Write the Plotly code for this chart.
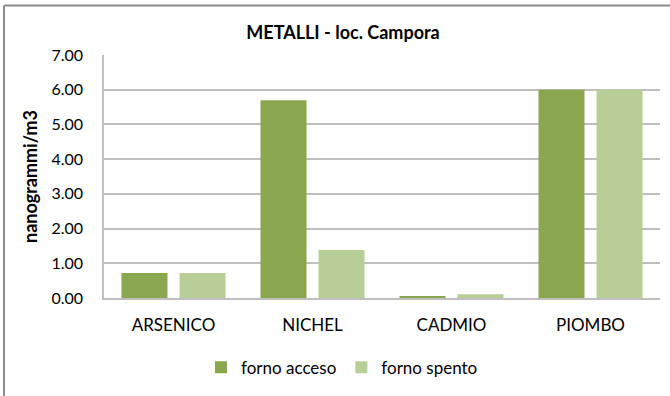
import plotly.graph_objects as go

categories = ["ARSENICO", "NICHEL", "CADMIO", "PIOMBO"]
forno_acceso = [0.72, 5.70, 0.06, 6.00]
forno_spento = [0.72, 1.38, 0.11, 6.00]
series_names = ["forno acceso", "forno spento"]
colors = ["#8AA64E", "#B8CE96"]
tick_vals = [0, 1, 2, 3, 4, 5, 6, 7]
tick_text = ["0.00", "1.00", "2.00", "3.00", "4.00", "5.00", "6.00", "7.00"]

FONT = "Lato"

fig = go.Figure()
for name, vals, col in zip(series_names, [forno_acceso, forno_spento], colors):
    fig.add_trace(go.Bar(x=categories, y=vals, name=name, marker=dict(color=col, line=dict(width=0))))

W, H = 670, 396
L, R, T, B = 104, 10, 55, 95.5
pw = W - L - R
ph = H - T - B

def px_x(p):
    return (p - L) / pw

def px_y(p):
    return (H - B - p) / ph

fig.update_layout(
    width=W, height=H,
    margin=dict(l=L, r=R, t=T, b=B),
    paper_bgcolor="white", plot_bgcolor="white",
    barmode="group", bargap=0.165, bargroupgap=0.207,
    font=dict(family=FONT, size=16, color="#000000"),
    title=dict(text="<b>METALLI - loc. Campora</b>", x=(343 / W), xanchor="center",
               y=1 - 33 / H, yanchor="middle", font=dict(family=FONT, size=18, color="#000")),
    showlegend=True,
    legend=dict(orientation="h", x=px_x(342), xanchor="center", y=px_y(371), yanchor="middle",
                font=dict(family=FONT, size=17, color="#000"), itemwidth=30, traceorder="normal",
                bgcolor="rgba(0,0,0,0)"),
    xaxis=dict(showgrid=False, showline=True, linecolor="#BFBFBF", linewidth=1.5,
               ticks="", tickfont=dict(family=FONT, size=17, color="#000"), ticklabelstandoff=11),
    yaxis=dict(range=[0, 7], tickvals=tick_vals, ticktext=tick_text, showgrid=True,
               gridcolor="#BFBFBF", gridwidth=1.5, showline=True, linecolor="#BFBFBF", linewidth=1.5,
               zeroline=False, ticks="", tickfont=dict(family=FONT, size=16, color="#000"),
               ticklabelstandoff=16,
               title=dict(text="<b>nanogrammi/m3</b>", font=dict(family=FONT, size=18, color="#000"),
                          standoff=9)),
)

# outer chart border (top and left visible)
fig.add_shape(type="line", xref="paper", yref="paper", x0=px_x(4), x1=px_x(680), y0=px_y(5), y1=px_y(5),
              line=dict(color="#8C8C8C", width=2))
fig.add_shape(type="line", xref="paper", yref="paper", x0=px_x(4), x1=px_x(4), y0=px_y(5), y1=px_y(400),
              line=dict(color="#8C8C8C", width=2))

fig.write_html("out.html")
